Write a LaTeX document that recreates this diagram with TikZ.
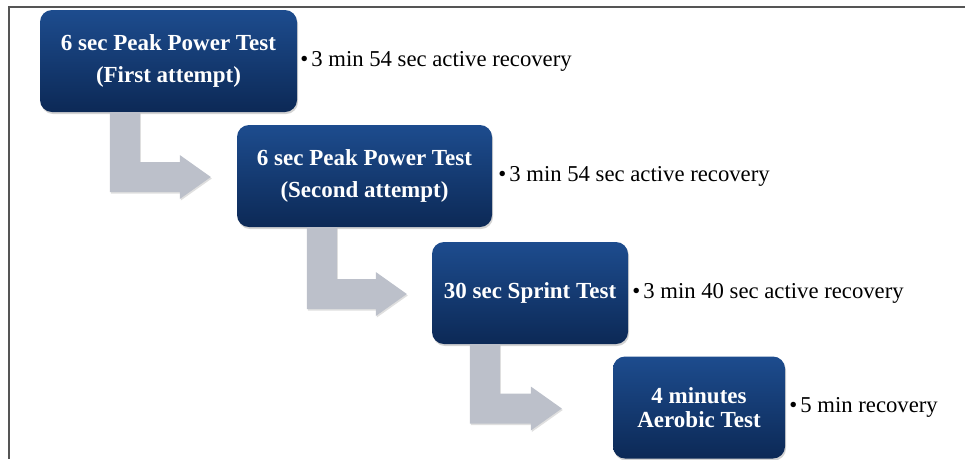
\documentclass[tikz,border=0pt]{standalone}
\usepackage{fontspec}
\setmainfont{Liberation Serif}
\usetikzlibrary{calc, positioning, shadows}
\definecolor{NavyTop}{HTML}{1D4C8E}
\definecolor{NavyBottom}{HTML}{0C2956}
\definecolor{ArrowMist}{HTML}{BCC0CA}
\definecolor{FrameGray}{HTML}{555555}
\newcommand{\bentarrow}[4]{
    \coordinate (barA) at ($(#1.south west)+(#3,0)$);
    \coordinate (tipT) at ($(#2.west)+(-#4,1)$);
    \fill[ArrowMist, drop shadow={opacity=0.25, shadow xshift=1pt, shadow yshift=-1.5pt}]
    (barA) -- ++(30,0) -- ($(barA |- tipT)+(30,-15)$) -- ($(tipT)+(-31,-15)$) -- ($(tipT)+(-31,-22)$)
    -- (tipT) -- ($(tipT)+(-31,22)$) -- ($(tipT)+(-31,15)$) -- ($(barA |- tipT)+(0,15)$) -- cycle;
}

\begin{document}
\begin{tikzpicture}[x=1pt, y=-1pt,
    testbox/.style={rounded corners=12pt, top color=NavyTop, bottom color=NavyBottom, text=white,
        font=\fontsize{23}{32}\selectfont\bfseries, align=center, minimum height=102pt, inner sep=0pt,
        drop shadow={opacity=0.35, shadow xshift=1pt, shadow yshift=-2pt}},
    recovery/.style={font=\fontsize{22.7}{27}\selectfont, inner sep=0pt}]
        \useasboundingbox (0,0) rectangle (965,459);
        \draw[FrameGray, line width=2pt] (965,7) -- (9,7) -- (9,459);

        % Test steps
        \node[testbox, minimum width=257pt] (power1) at (168.5,61) {6 sec Peak Power Test\\(First attempt)};
        \node[testbox, minimum width=255pt] (power2) at (364.5,176) {6 sec Peak Power Test\\(Second attempt)};
        \node[testbox, minimum width=196pt] (sprint) at (530,293) {30 sec Sprint Test};
        \node[testbox, minimum width=172pt, font=\fontsize{23}{24}\selectfont\bfseries] (aerobic) at (699,407.5) {4 minutes\\Aerobic Test};

        % Recovery notes
        \node[recovery, right=3pt of power1] (rest1) {\textbullet\hspace{3pt}3 min 54 sec active recovery};
        \node[recovery, right=6pt of power2] (rest2) {\textbullet\hspace{3pt}3 min 54 sec active recovery};
        \node[recovery, right=4pt of sprint] (rest3) {\textbullet\hspace{3pt}3 min 40 sec active recovery};
        \node[recovery, right=4pt of aerobic] (rest4) {\textbullet\hspace{3pt}5 min recovery};

        % Bent arrows
        \bentarrow{power1}{power2}{70}{26}
        \bentarrow{power2}{sprint}{70}{25}
        \bentarrow{sprint}{aerobic}{38}{51}
    \end{tikzpicture}
\end{document}
